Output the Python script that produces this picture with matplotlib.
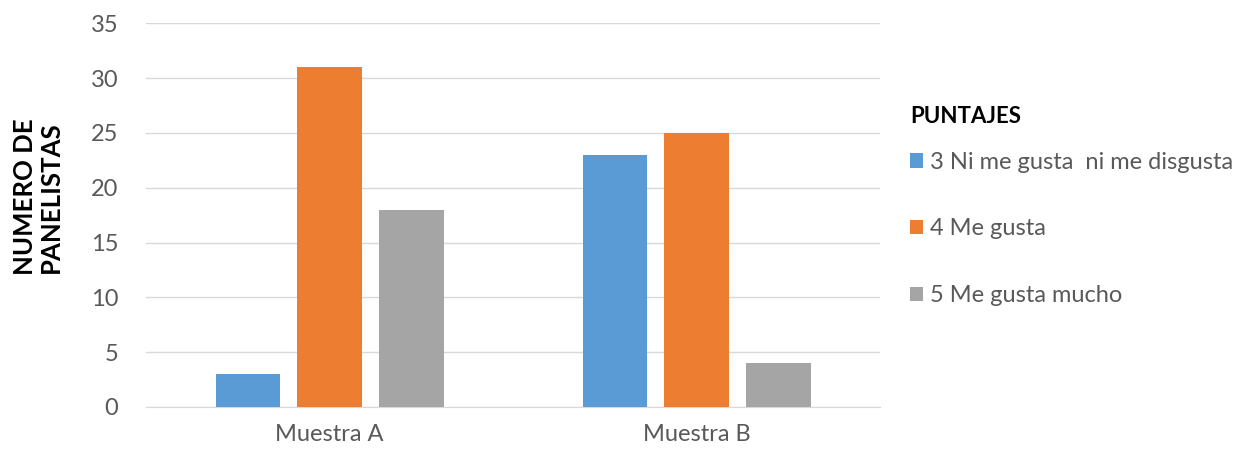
import numpy as np
import matplotlib.pyplot as plt

plt.rcParams["font.family"] = ["Lato", "DejaVu Sans"]

muestras = ["Muestra A", "Muestra B"]
puntajes = ["3 Ni me gusta  ni me disgusta", "4 Me gusta", "5 Me gusta mucho"]
valores = [
    [3, 23],   # 3 Ni me gusta ni me disgusta
    [31, 25],  # 4 Me gusta
    [18, 4],   # 5 Me gusta mucho
]
colores = ["#5B9BD5", "#ED7D31", "#A5A5A5"]
gris_texto = "#595959"

fig = plt.figure(figsize=(12.52, 4.55), dpi=100)
ax = fig.add_axes([0.1166, 0.1055, 0.703 - 0.1166, 0.949 - 0.1055])

x = np.arange(len(muestras))
ancho = 0.175
paso = 0.223
barras = []
for i, (vals, col) in enumerate(zip(valores, colores)):
    b = ax.bar(x + (i - 1) * paso, vals, ancho, color=col, zorder=3, label=puntajes[i])
    barras.append(b)

ax.set_xlim(-0.5, 1.5)
ax.set_ylim(0, 35)
ax.set_yticks(range(0, 36, 5))
ax.set_xticks(x)
ax.set_xticklabels(muestras)
ax.yaxis.grid(True, color="#D9D9D9", linewidth=1, zorder=0)
for s in ["top", "right", "left"]:
    ax.spines[s].set_visible(False)
ax.spines["bottom"].set_color("#D9D9D9")
ax.tick_params(axis="both", length=0, labelsize=17, labelcolor=gris_texto)
ax.tick_params(axis="x", pad=12)
ax.tick_params(axis="y", pad=20)

fig.text(0.030, 0.567, "NUMERO DE\nPANELISTAS", rotation=90, ha="center", va="center",
         fontsize=18.5, fontweight="bold", color="black", linespacing=1.1)

# titulo de la leyenda aparte para controlar el espacio
fig.text(0.727, 0.745, "PUNTAJES", ha="left", va="center",
         fontsize=16, fontweight="bold", color="black")
leg = fig.legend(handles=barras, labels=puntajes, loc="upper left",
                 bbox_to_anchor=(0.71, 0.713), frameon=False, fontsize=17,
                 handlelength=0.55, handleheight=0.55, handletextpad=0.3,
                 labelspacing=1.93)
for t in leg.get_texts():
    t.set_color(gris_texto)

fig.savefig("out.png", dpi=100)
